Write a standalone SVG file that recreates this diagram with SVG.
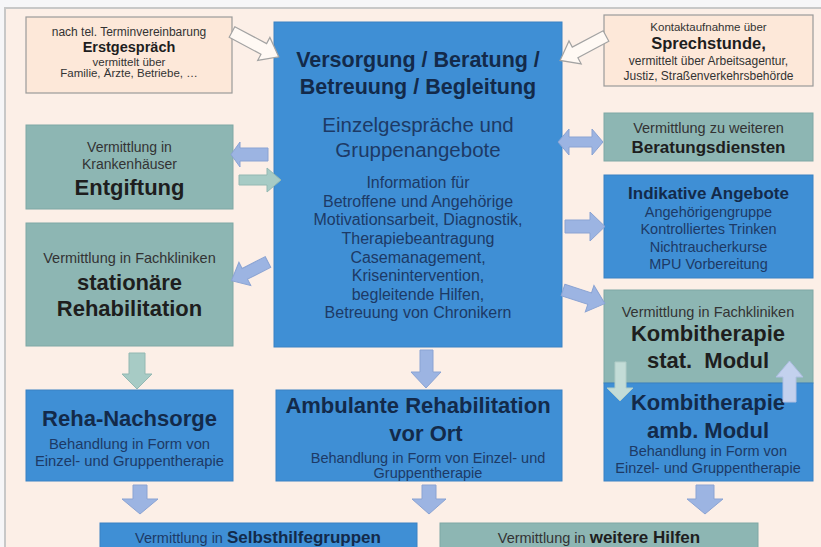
<svg xmlns="http://www.w3.org/2000/svg" width="821" height="547" viewBox="0 0 821 547">
<style>
  text { font-family: "Liberation Sans", Arial, sans-serif; text-anchor: middle; }
  .light { fill: #fde8d9; stroke: #9a9a9a; stroke-width: 1.2; }
  .teal { fill: #8db6b3; stroke: #7fa8a5; stroke-width: 1; }
  .blue { fill: #3f8fd5; stroke: #3a82c4; stroke-width: 1; }
  .ab { fill: #9cb4e2; stroke: #8aa3d3; stroke-width: 1; }
  .at { fill: #a7cbc5; stroke: #93b8b2; stroke-width: 1; }
  .ao { fill: #fff9f4; stroke: #a3a3a3; stroke-width: 1.2; }
  .aKt { fill: #c3dcd7; stroke: #b0ccc7; stroke-width: 1; }
  .aKb { fill: #c3d1ee; stroke: #aebfe3; stroke-width: 1; }
  .dk { fill: #1e1e1e; }
  .gr { fill: #333333; }
  .nv { fill: #132a4a; }
  .nv2 { fill: #1d3a66; }
  .b { font-weight: bold; }
</style>
<rect x="0" y="0" width="821" height="547" fill="#f6f6f8"/>
<rect x="5" y="8" width="830" height="560" fill="#fcefe7" stroke="#c8c8c8" stroke-width="2"/>

<g id="erstgespraech">
  <rect class="light" x="26" y="17" width="206" height="76"/>
  <text class="gr" x="129" y="36" font-size="12">nach  tel. Terminvereinbarung</text>
  <text class="dk b" x="129" y="52" font-size="14.5">Erstgespräch</text>
  <text class="gr" x="129" y="66" font-size="11.5">vermittelt über</text>
  <text class="gr" x="129" y="77" font-size="11.5">Familie, Ärzte, Betriebe, …</text>
</g>

<g id="sprechstunde">
  <rect class="light" x="604" y="15" width="209" height="71"/>
  <text class="gr" x="708.5" y="31" font-size="11.5">Kontaktaufnahme über</text>
  <text class="dk b" x="708.5" y="49" font-size="16.5">Sprechstunde,</text>
  <text class="gr" x="708.5" y="65" font-size="12">vermittelt  über  Arbeitsagentur,</text>
  <text class="gr" x="708.5" y="80" font-size="12">Justiz,  Straßenverkehrsbehörde</text>
</g>

<g id="versorgung">
  <rect class="blue" x="274" y="22" width="288" height="325"/>
  <text class="nv b" x="418" y="67" font-size="21.5">Versorgung / Beratung /</text>
  <text class="nv b" x="418" y="94" font-size="21.5">Betreuung / Begleitung</text>
  <text class="nv2" x="418" y="132" font-size="20.5">Einzelgespräche und</text>
  <text class="nv2" x="418" y="157" font-size="20.5">Gruppenangebote</text>
  <text class="nv2" x="418" y="188" font-size="16">Information für</text>
  <text class="nv2" x="418" y="206.5" font-size="16">Betroffene und Angehörige</text>
  <text class="nv2" x="418" y="225" font-size="16">Motivationsarbeit, Diagnostik,</text>
  <text class="nv2" x="418" y="244" font-size="16">Therapiebeantragung</text>
  <text class="nv2" x="418" y="262.5" font-size="16">Casemanagement,</text>
  <text class="nv2" x="418" y="281" font-size="16">Krisenintervention,</text>
  <text class="nv2" x="418" y="299.5" font-size="16">begleitende Hilfen,</text>
  <text class="nv2" x="418" y="318" font-size="16">Betreuung von Chronikern</text>
</g>

<g id="entgiftung">
  <rect class="teal" x="26" y="125" width="207" height="84"/>
  <text class="gr" x="129.5" y="152" font-size="14">Vermittlung in</text>
  <text class="gr" x="129.5" y="168.5" font-size="14">Krankenhäuser</text>
  <text class="dk b" x="129.5" y="195" font-size="22">Entgiftung</text>
</g>

<g id="stationaer">
  <rect class="teal" x="26" y="223" width="207" height="123"/>
  <text class="gr" x="129.5" y="263" font-size="14.5">Vermittlung in Fachkliniken</text>
  <text class="dk b" x="129.5" y="290" font-size="22">stationäre</text>
  <text class="dk b" x="129.5" y="316" font-size="22">Rehabilitation</text>
</g>

<g id="beratungsdienste">
  <rect class="teal" x="604" y="113" width="209" height="48"/>
  <text class="gr" x="708.5" y="133" font-size="14.5">Vermittlung zu weiteren</text>
  <text class="dk b" x="708.5" y="153" font-size="17">Beratungsdiensten</text>
</g>

<g id="indikative">
  <rect class="blue" x="604" y="175" width="209" height="103"/>
  <text class="nv b" x="708.5" y="199" font-size="17">Indikative Angebote</text>
  <text class="nv2" x="708.5" y="217" font-size="14.5">Angehörigengruppe</text>
  <text class="nv2" x="708.5" y="234" font-size="14.5">Kontrolliertes Trinken</text>
  <text class="nv2" x="708.5" y="251.5" font-size="14.5">Nichtraucherkurse</text>
  <text class="nv2" x="708.5" y="268.5" font-size="14.5">MPU Vorbereitung</text>
</g>

<g id="kombitherapie">
  <rect class="teal" x="604" y="290" width="209" height="93"/>
  <rect class="blue" x="604" y="383" width="209" height="98"/>
  <text class="gr" x="708" y="317" font-size="14.5">Vermittlung in Fachkliniken</text>
  <text class="dk b" x="708" y="341" font-size="22">Kombitherapie</text>
  <text class="dk b" x="708" y="368" font-size="22" xml:space="preserve">stat.  Modul</text>
  <text class="nv b" x="708" y="410" font-size="22">Kombitherapie</text>
  <text class="nv b" x="708" y="438" font-size="22">amb. Modul</text>
  <text class="nv2" x="708" y="456" font-size="14.5">Behandlung in Form von</text>
  <text class="nv2" x="708" y="473" font-size="14.5">Einzel- und Gruppentherapie</text>
</g>

<g id="reha-nachsorge">
  <rect class="blue" x="26" y="390" width="207" height="91"/>
  <text class="nv b" x="129.5" y="426" font-size="22">Reha-Nachsorge</text>
  <text class="nv2" x="129.5" y="449" font-size="14.8">Behandlung in Form von</text>
  <text class="nv2" x="129.5" y="466" font-size="14.8">Einzel- und Gruppentherapie</text>
</g>

<g id="ambulante">
  <rect class="blue" x="276" y="390" width="286" height="91"/>
  <text class="nv b" x="418" y="413" font-size="22">Ambulante Rehabilitation</text>
  <text class="nv b" x="426" y="441" font-size="22">vor Ort</text>
  <text class="nv2" x="428" y="463" font-size="14.5">Behandlung in Form von Einzel- und</text>
  <text class="nv2" x="428" y="478" font-size="14.5">Gruppentherapie</text>
</g>

<g id="selbsthilfe">
  <rect class="blue" x="100" y="523" width="317" height="40"/>
  <text x="258" y="543" font-size="14.5"><tspan class="nv2">Vermittlung in </tspan><tspan class="nv b" font-size="17">Selbsthilfegruppen</tspan></text>
</g>

<g id="weitere-hilfen">
  <rect class="teal" x="440" y="523" width="318" height="40"/>
  <text x="599" y="543" font-size="14.5"><tspan class="gr">Vermittlung in </tspan><tspan class="dk b" font-size="17">weitere Hilfen</tspan></text>
</g>

<g id="connectors">
  <polygon class="ao" transform="translate(232,32) rotate(28)" points="0,-6 36,-6 36,-13 53,0 36,13 36,6 0,6"/>
  <polygon class="ao" transform="translate(606,36) rotate(152)" points="0,-6 35,-6 35,-13 52,0 35,13 35,6 0,6"/>
  <polygon class="ab" points="268,148 240,148 240,142 231,154.5 240,167 240,161 268,161"/>
  <polygon class="at" points="239,175 267,175 267,168 281,180 267,192 267,185 239,185"/>
  <polygon class="ab" transform="translate(268,262) rotate(153)" points="0,-6 26,-6 26,-13 41,0 26,13 26,6 0,6"/>
  <polygon class="ab" points="558,142 569,129 569,137 592,137 592,129 603,142 592,155 592,147 569,147 569,155"/>
  <polygon class="ab" points="565,220 590,220 590,212 605,226.5 590,241 590,233 565,233"/>
  <polygon class="ab" transform="translate(563,290) rotate(18)" points="0,-6 28,-6 28,-14 44,0 28,14 28,6 0,6"/>
  <polygon class="at" points="129,353 145,353 145,374 152,374 137,389 122,374 129,374"/>
  <polygon class="ab" points="420,350 433,350 433,372 441,372 426,388 411,372 420,372"/>
  <polygon class="aKt" points="615,362 626,362 626,388 633,388 620,401 607,388 615,388"/>
  <polygon class="aKb" points="783,402 796,402 796,377 803,377 789.5,361 776,377 783,377"/>
  <polygon class="ab" points="133,485 147,485 147,499 158,499 140,514 122,499 133,499"/>
  <polygon class="ab" points="422,485 436,485 436,499 446,499 429,514 412,499 422,499"/>
  <polygon class="ab" points="696,485 714,485 714,499 723,499 705,514 687,499 696,499"/>
</g>
</svg>
